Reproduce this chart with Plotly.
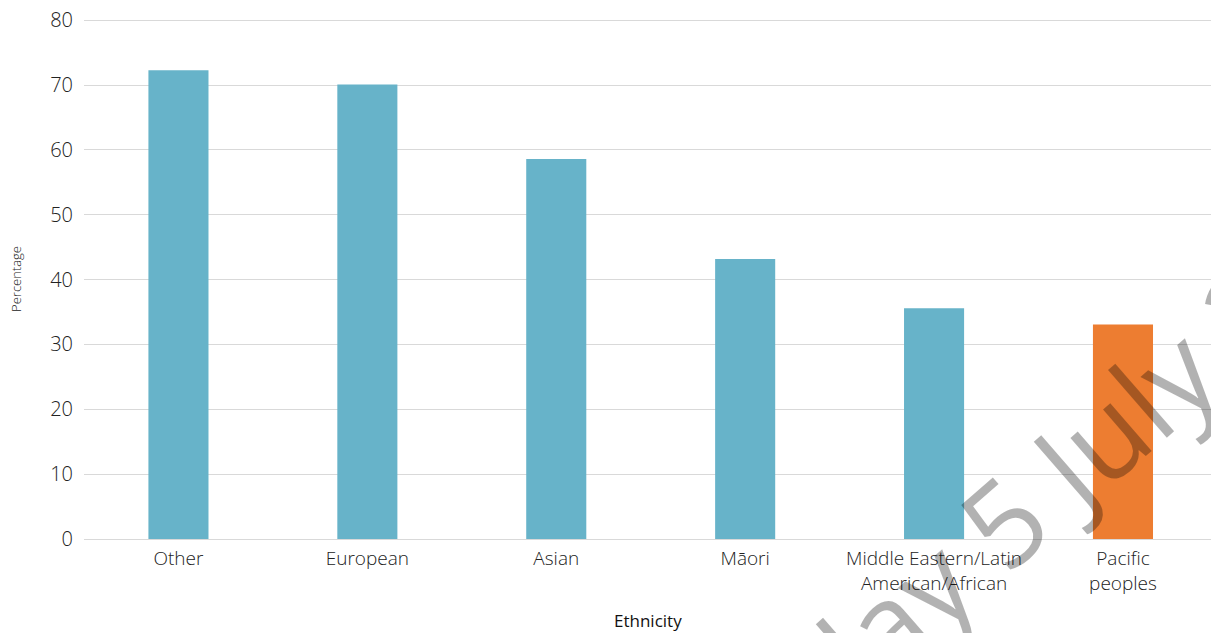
import plotly.graph_objects as go

categories = ["Other", "European", "Asian", "Māori",
              "Middle Eastern/Latin<br>American/African", "Pacific<br>peoples"]
values = [72.3, 70.1, 58.6, 43.2, 35.6, 33.1]
colors = ["#67B3C9", "#67B3C9", "#67B3C9", "#67B3C9", "#67B3C9", "#ED7D31"]
y_ticks = [0, 10, 20, 30, 40, 50, 60, 70, 80]

FONT = "Open Sans, sans-serif"

fig = go.Figure()
fig.add_trace(go.Bar(
    x=list(range(len(categories))), y=values,
    marker=dict(color=colors, line=dict(width=0)),
    width=0.318,
    hoverinfo="skip",
))

fig.update_layout(
    width=1211, height=633,
    margin=dict(l=84, r=0, t=19, b=94, autoexpand=False),
    paper_bgcolor="white", plot_bgcolor="white",
    font=dict(family=FONT, color="#222222"),
    showlegend=False,
    xaxis=dict(
        tickmode="array", tickvals=list(range(len(categories))), ticktext=categories,
        range=[-0.5, 5.466], showgrid=False, zeroline=False, showline=False,
        automargin=False,
        ticks="", tickfont=dict(size=19, color="#222222", family=FONT, weight=300),
        ticklabelstandoff=6,
    ),
    yaxis=dict(
        range=[0, 80.2], tickvals=y_ticks, showgrid=True, gridcolor="#d9d9d9",
        gridwidth=1, zeroline=True, zerolinecolor="#d9d9d9", zerolinewidth=1,
        showline=False, ticks="", automargin=False,
        tickfont=dict(size=20, color="#222222", family=FONT, weight=300),
        ticklabelstandoff=10,
    ),
    annotations=[
        dict(text="Ethnicity", xref="paper", yref="paper", x=0.5, y=-0.156,
             xanchor="center", yanchor="middle", showarrow=False,
             font=dict(size=17, color="#111111", family=FONT, weight=500)),
        dict(text="Percentage", xref="paper", yref="paper", x=-0.0604, y=0.5,
             xanchor="center", yanchor="middle", showarrow=False, textangle=-90,
             font=dict(size=13, color="#222222", family=FONT, weight=300)),
        dict(text="Friday 5 July 2024", xref="paper", yref="paper", x=0.868, y=0.135,
             xanchor="center", yanchor="middle", showarrow=False, textangle=-41,
             font=dict(size=118, color="rgba(0,0,0,0.3)", family=FONT, weight=400)),
    ],
)

fig.write_html("out.html", config={"displayModeBar": False},
               post_script="document.body.style.margin='0px';")
